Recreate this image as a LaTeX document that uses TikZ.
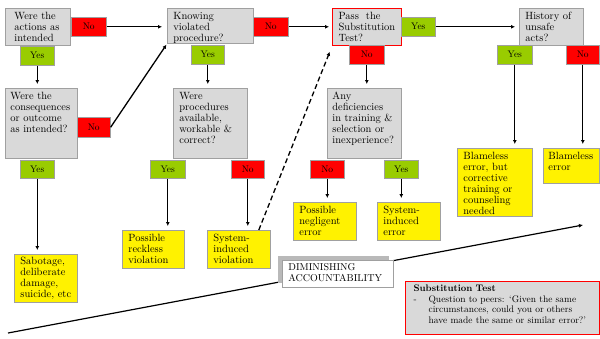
\documentclass[tikz,border=0pt]{standalone}
\usetikzlibrary{arrows.meta,shadows}
\definecolor{boxgray}{HTML}{D9D9D9}
\definecolor{edgegray}{HTML}{A0A0A0}
\definecolor{yesgreen}{HTML}{99CC00}
\tikzset{
  qbox/.style={draw=edgegray, fill=boxgray, line width=0.8pt, anchor=north west,
    align=left, inner xsep=6pt, inner ysep=3pt, text height=8pt,
    font=\fontsize{10.5}{11}\selectfont},
  outbox/.style={qbox, fill=yellow},
  dims/.style 2 args={text width=#1, text depth=#2},
  yesbox/.style={draw=edgegray, fill=yesgreen, line width=0.6pt, anchor=north west,
    inner sep=0pt, font=\fontsize{9.5}{11}\selectfont},
  nobox/.style={yesbox, fill=red},
  yn/.style 2 args={minimum width=#1, minimum height=#2},
  arr/.style={line width=1.3pt, -{Latex[length=4pt,width=4pt]}, shorten >=4pt}
}
\begin{document}
\begin{tikzpicture}[x=1pt,y=-1pt]
\useasboundingbox[fill=white] (0,0) rectangle (600,338);
% accountability axis
\coordinate (acc0) at (8,333);
\coordinate (acc1) at (583,225);
\draw[arr, line width=1.2pt, shorten >=0pt] (acc0) -- (acc1);
\node[qbox, fill=white, inner ysep=2pt, dims={99pt}{15pt}, font=\fontsize{10}{11}\selectfont,
  drop shadow={shadow xshift=-4pt, shadow yshift=4pt, fill=gray!55, opacity=1}]
  (dimin) at (282,260) {DIMINISHING\\ACCOUNTABILITY};
% questions
\node[qbox, inner xsep=9pt, dims={47pt}{23pt}] (act) at (5,8) {Were the\\actions as\\intended};
\node[qbox, inner xsep=5pt, dims={62pt}{56pt}] (cons) at (5,88) {Were the\\consequences\\or outcome\\as intended?};
\node[qbox, dims={74pt}{21pt}] (know) at (167,8) {Knowing\\violated\\procedure?};
\node[qbox, dims={62pt}{56pt}] (proc) at (173,88) {Were\\procedures\\available,\\workable \&\\correct?};
\node[qbox, draw=red, line width=1.2pt, dims={57pt}{23pt}] (pass) at (332,8) {Pass\ \ the\\Substitution\\Test?};
\node[qbox, inner xsep=5pt, dims={64pt}{56pt}] (defi) at (327,88) {Any\\deficiencies\\in training \&\\selection or\\inexperience?};
\node[qbox, dims={52pt}{23pt}] (hist) at (519,8) {History of\\unsafe\\acts?};
% yes / no tags
\node[nobox, yn={35pt}{19pt}] (actno) at (71,17) {No};
\node[yesbox, yn={34pt}{19pt}] (actyes) at (20,46) {Yes};
\node[nobox, yn={33pt}{20pt}] (consno) at (77,117) {No};
\node[yesbox, yn={34pt}{18pt}] (consyes) at (20,160) {Yes};
\node[nobox, yn={35pt}{19pt}] (knowno) at (253,17) {No};
\node[yesbox, yn={33pt}{19pt}] (knowyes) at (191,45) {Yes};
\node[yesbox, yn={35pt}{18pt}] (procyes) at (150,160) {Yes};
\node[nobox, yn={33pt}{18pt}] (procno) at (231,160) {No};
\node[yesbox, yn={34pt}{19pt}] (passyes) at (401,17) {Yes};
\node[nobox, yn={35pt}{19pt}] (passno) at (349,45) {No};
\node[nobox, yn={34pt}{18pt}] (defino) at (310,160) {No};
\node[yesbox, yn={34pt}{18pt}] (defiyes) at (384,160) {Yes};
\node[yesbox, yn={35pt}{19pt}] (histyes) at (497,45) {Yes};
\node[nobox, yn={33pt}{19pt}] (histno) at (566,45) {No};
% outcomes
\node[outbox, inner ysep=2pt, dims={51pt}{36pt}] (sabo) at (14,254) {Sabotage,\\deliberate\\damage,\\suicide, etc};
\node[outbox, dims={50pt}{24pt}] (reck) at (122,230) {Possible\\reckless\\violation};
\node[outbox, dims={51pt}{24pt}] (sysv) at (207,230) {System-\\induced\\violation};
\node[outbox, dims={51pt}{24pt}] (negl) at (293,202) {Possible\\negligent\\error};
\node[outbox, dims={51pt}{24pt}] (syse) at (377,202) {System-\\induced\\error};
\node[outbox, dims={63pt}{54pt}] (blbut) at (457,148) {Blameless\\error, but\\corrective\\training or\\counseling\\needed};
\node[outbox, inner xsep=5pt, dims={46pt}{21pt}] (blame) at (543,148) {Blameless\\error};
% substitution test note
\node[qbox, draw=red, line width=1.2pt, inner xsep=8pt, inner ysep=2pt,
  font=\fontsize{9.5}{10.5}\selectfont, dims={178pt}{41pt}] (subst) at (405,281)
  {\textbf{Substitution Test}\\
   \makebox[15pt][l]{-}Question to peers: `Given the same\\
   \hspace*{15pt}circumstances, could you or others\\
   \hspace*{15pt}have made the same or similar error?'};
% connectors
\draw[arr, shorten >=5pt] (actno.east) -- (actno.east -| know.west);
\draw[arr, shorten >=1pt] (consno.east) -- (know.south west);
\draw[arr, shorten >=3pt] (knowno.east) -- (knowno.east -| pass.west);
\draw[arr] (passyes.east) -- (passyes.east -| hist.west);
\draw[arr, dash pattern=on 5pt off 3pt, shorten >=6pt] ([xshift=-12pt]sysv.north east) -- (pass.south west);
\draw[arr] (actyes.south) -- (actyes.south |- cons.north);
\draw[arr] (consyes.south) -- (consyes.south |- sabo.north);
\draw[arr] (knowyes.south) -- (knowyes.south |- proc.north);
\draw[arr] (procyes.south) -- (procyes.south |- reck.north);
\draw[arr] (procno.south) -- (procno.south |- sysv.north);
\draw[arr] (passno.south) -- (passno.south |- defi.north);
\draw[arr] (defino.south) -- (defino.south |- negl.north);
\draw[arr] (defiyes.south) -- (defiyes.south |- syse.north);
\draw[arr] (histyes.south) -- (histyes.south |- blbut.north);
\draw[arr] (histno.south) -- (histno.south |- blame.north);
\end{tikzpicture}
\end{document}
